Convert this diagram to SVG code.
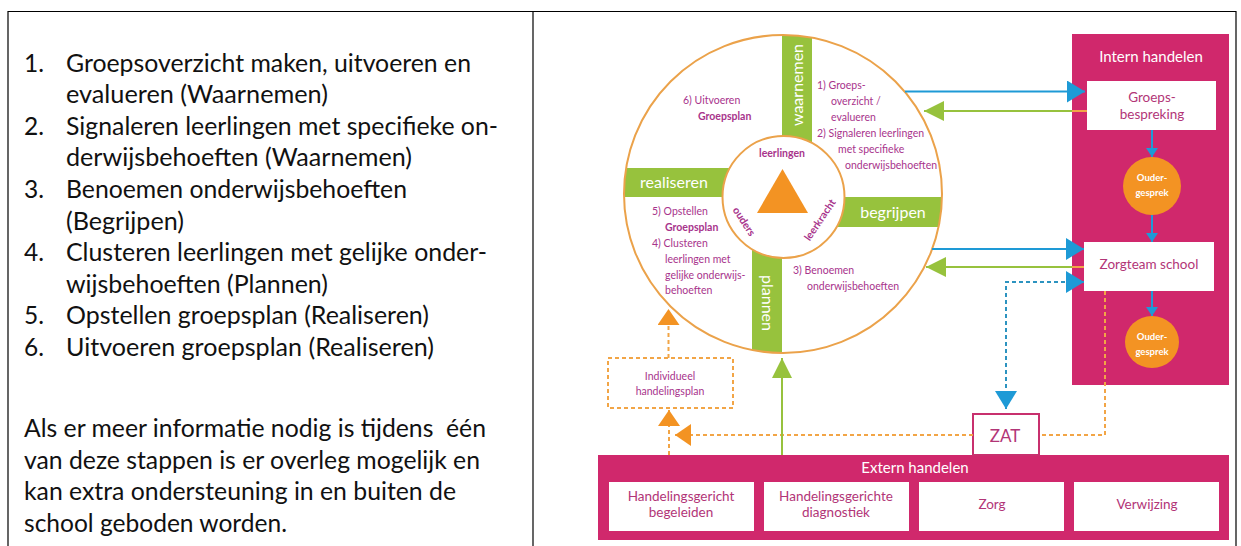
<svg xmlns="http://www.w3.org/2000/svg" width="1241" height="546" viewBox="0 0 1241 546">
<style>
.lt{font-family:Lato,"Liberation Sans",sans-serif;font-size:24.5px;fill:#111}
.ct{font-family:Lato,"Liberation Sans",sans-serif;font-size:10.5px;fill:#A8348C}
.b{font-weight:bold}
.gb{font-family:Lato,"Liberation Sans",sans-serif;font-size:16px;fill:#fff;text-anchor:middle}
.wt{font-family:Lato,"Liberation Sans",sans-serif;font-size:15px;fill:#fff;text-anchor:middle}
.bx{font-family:Lato,"Liberation Sans",sans-serif;font-size:13.5px;fill:#B23577;text-anchor:middle}
.ot{font-family:Lato,"Liberation Sans",sans-serif;font-size:9.5px;fill:#fff;text-anchor:middle;font-weight:bold}
.mag{fill:#D0286C}
.wbox{fill:#fff}
.bar{fill:#97C23D}
.og{fill:#F39323}
.blue{stroke:#1E9AD6;stroke-width:2;fill:none}
.bdash{stroke:#2C93C0;stroke-width:2;fill:none;stroke-dasharray:4 3}
.green{stroke:#97C23D;stroke-width:2;fill:none}
.odash{stroke:#F2A546;stroke-width:2;fill:none;stroke-dasharray:4 3}
.oseg{stroke:#F2A546;stroke-width:2}
</style>
<defs>
<clipPath id="cc"><circle cx="783" cy="194" r="159"/></clipPath>
<marker id="mb" markerUnits="userSpaceOnUse" markerWidth="20" markerHeight="22" refX="18" refY="11" orient="auto-start-reverse"><path d="M0,0 L18,11 L0,22 Z" fill="#1E9AD6"/></marker>
<marker id="mbs" markerUnits="userSpaceOnUse" markerWidth="12" markerHeight="12" refX="9" refY="6" orient="auto"><path d="M0,0 L9,6 L0,12 Z" fill="#1E9AD6"/></marker>
<marker id="mg" markerUnits="userSpaceOnUse" markerWidth="22" markerHeight="22" refX="20" refY="10" orient="auto"><path d="M0,0 L20,10 L0,20 Z" fill="#97C23D"/></marker>
<marker id="mo" markerUnits="userSpaceOnUse" markerWidth="18" markerHeight="24" refX="16" refY="11" orient="auto"><path d="M0,0 L16,11 L0,22 Z" fill="#F39323"/></marker>
</defs>
<rect width="1241" height="546" fill="#fff"/>
<g id="table" stroke="#000" stroke-width="1.2" fill="none">
<path d="M8,546 L8,11.5 L1236,11.5 L1236,546"/>
<path d="M533,11.5 L533,546"/>
</g>
<g id="left-text" class="lt">
<text x="24" y="71.5">1.</text><text x="66" y="71.5" textLength="405" lengthAdjust="spacingAndGlyphs">Groepsoverzicht maken, uitvoeren en</text>
<text x="66" y="103.1" textLength="262" lengthAdjust="spacingAndGlyphs">evalueren (Waarnemen)</text>
<text x="24" y="134.7">2.</text><text x="66" y="134.7" textLength="432" lengthAdjust="spacingAndGlyphs">Signaleren leerlingen met specifieke on-</text>
<text x="66" y="166.3" textLength="346" lengthAdjust="spacingAndGlyphs">derwijsbehoeften (Waarnemen)</text>
<text x="24" y="197.9">3.</text><text x="66" y="197.9" textLength="341" lengthAdjust="spacingAndGlyphs">Benoemen onderwijsbehoeften</text>
<text x="66" y="229.5" textLength="118" lengthAdjust="spacingAndGlyphs">(Begrijpen)</text>
<text x="24" y="261.1">4.</text><text x="66" y="261.1" textLength="421" lengthAdjust="spacingAndGlyphs">Clusteren leerlingen met gelijke onder-</text>
<text x="66" y="292.7" textLength="262" lengthAdjust="spacingAndGlyphs">wijsbehoeften (Plannen)</text>
<text x="24" y="324.3">5.</text><text x="66" y="324.3" textLength="363" lengthAdjust="spacingAndGlyphs">Opstellen groepsplan (Realiseren)</text>
<text x="24" y="355.9">6.</text><text x="66" y="355.9" textLength="368" lengthAdjust="spacingAndGlyphs">Uitvoeren groepsplan (Realiseren)</text>
<text x="24" y="437" xml:space="preserve" textLength="462" lengthAdjust="spacingAndGlyphs">Als er meer informatie nodig is tijdens  één</text>
<text x="24" y="468.5" textLength="456" lengthAdjust="spacingAndGlyphs">van deze stappen is er overleg mogelijk en</text>
<text x="24" y="500" textLength="432" lengthAdjust="spacingAndGlyphs">kan extra ondersteuning in en buiten de</text>
<text x="24" y="531.5" textLength="263" lengthAdjust="spacingAndGlyphs">school geboden worden.</text>
</g>
<g id="cycle">
<circle cx="783" cy="194" r="159" fill="#fff"/>
<g clip-path="url(#cc)">
<rect class="bar" x="782" y="20" width="30" height="177"/>
<rect class="bar" x="600" y="168" width="183" height="29"/>
<rect class="bar" x="783" y="197" width="180" height="30"/>
<rect class="bar" x="752" y="197" width="30" height="180"/>
</g>
<circle cx="783" cy="194" r="159" fill="none" stroke="#EBA24A" stroke-width="2"/>
<text class="gb" transform="translate(802.5,85) rotate(-90)">waarnemen</text>
<text class="gb" x="674" y="187.5">realiseren</text>
<text class="gb" x="893" y="217.5">begrijpen</text>
<text class="gb" transform="translate(761.5,303) rotate(90)">plannen</text>
<text class="ct" x="683" y="103.5">6)  Uitvoeren</text>
<text class="ct b" x="698" y="119.5">Groepsplan</text>
<text class="ct" x="817" y="89">1)  Groeps-</text>
<text class="ct" x="831" y="105">overzicht /</text>
<text class="ct" x="831" y="121">evalueren</text>
<text class="ct" x="817" y="137">2)  Signaleren leerlingen</text>
<text class="ct" x="838" y="153">met specifieke</text>
<text class="ct" x="845" y="169">onderwijsbehoeften</text>
<text class="ct" x="652" y="214.5">5) Opstellen</text>
<text class="ct b" x="665" y="230.5">Groepsplan</text>
<text class="ct" x="652" y="246.5">4) Clusteren</text>
<text class="ct" x="665" y="262.5">leerlingen met</text>
<text class="ct" x="665" y="278.5">gelijke onderwijs-</text>
<text class="ct" x="665" y="294">behoeften</text>
<text class="ct" x="793" y="274">3)  Benoemen</text>
<text class="ct" x="807" y="290">onderwijsbehoeften</text>
</g>
<g id="center">
<circle cx="783.5" cy="197" r="61" fill="#fff" stroke="#EBA24A" stroke-width="2"/>
<polygon class="og" points="782.5,169 757,213 808,213"/>
<text class="ct b" x="782" y="156.5" text-anchor="middle">leerlingen</text>
<text class="ct b" text-anchor="middle" transform="translate(744,221.5) rotate(57)" dy="3.5">ouders</text>
<text class="ct b" text-anchor="middle" transform="translate(820,220) rotate(-56)" dy="3.5">leerkracht</text>
</g>
<g id="intern">
<rect class="mag" x="1072" y="34" width="157" height="351"/>
<text class="wt" x="1151" y="62">Intern handelen</text>
</g>
<g id="groepsbespreking">
<rect class="wbox" x="1087" y="81" width="129" height="49"/>
<text class="bx" x="1152" y="101.5" font-size="14">Groeps-</text>
<text class="bx" x="1152" y="118.5" font-size="14">bespreking</text>
</g>
<g id="oudergesprek1">
<circle class="og" cx="1152" cy="186" r="29"/>
<text class="ot" x="1152" y="180.5">Ouder-</text>
<text class="ot" x="1152" y="195.5">gesprek</text>
</g>
<g id="zorgteam">
<rect class="wbox" x="1084" y="242" width="130" height="49"/>
<text class="bx" x="1149" y="268.5" font-size="14">Zorgteam school</text>
</g>
<g id="oudergesprek2">
<ellipse class="og" cx="1152" cy="342" rx="27" ry="26"/>
<text class="ot" x="1152" y="340">Ouder-</text>
<text class="ot" x="1152" y="355">gesprek</text>
</g>
<g id="individueel">
<rect x="608" y="358" width="125" height="50" fill="none" class="odash"/>
<text class="ct" x="670" y="380" text-anchor="middle">Individueel</text>
<text class="ct" x="670" y="395" text-anchor="middle">handelingsplan</text>
</g>
<g id="extern">
<rect class="mag" x="598" y="455" width="631" height="85"/>
<text class="wt" x="915" y="472.5">Extern handelen</text>
<rect class="wbox" x="609" y="482" width="145" height="49"/>
<text class="bx" x="681" y="500.5">Handelingsgericht</text>
<text class="bx" x="681" y="517">begeleiden</text>
<rect class="wbox" x="764" y="482" width="145" height="49"/>
<text class="bx" x="836" y="500.5">Handelingsgerichte</text>
<text class="bx" x="836" y="517">diagnostiek</text>
<rect class="wbox" x="919" y="482" width="145" height="49"/>
<text class="bx" x="992" y="508.5">Zorg</text>
<rect class="wbox" x="1074" y="482" width="145" height="49"/>
<text class="bx" x="1147" y="508.5">Verwijzing</text>
</g>
<g id="zat">
<rect x="973" y="414" width="66" height="41" fill="#fff" stroke="#C8306E" stroke-width="2"/>
<text x="1005" y="442" font-family="Lato,'Liberation Sans',sans-serif" font-size="17" fill="#B23577" text-anchor="middle">ZAT</text>
</g>
<g id="connectors">
<path class="blue" d="M905,91.5 L1085,91.5" marker-end="url(#mb)"/>
<line class="oseg" x1="1072" y1="111" x2="1087" y2="111"/>
<path class="green" d="M1072,111 L924,111" marker-end="url(#mg)"/>
<path class="blue" d="M932,249 L1084,249" marker-end="url(#mb)"/>
<line class="oseg" x1="1072" y1="267" x2="1084" y2="267"/>
<path class="green" d="M1072,267 L926,267" marker-end="url(#mg)"/>
<path class="bdash" d="M1006,409 L1006,282 L1084,282" marker-start="url(#mb)" marker-end="url(#mb)"/>
<path class="blue" d="M1152,130 L1152,157" marker-end="url(#mbs)"/>
<path class="blue" d="M1152,215 L1152,242" marker-end="url(#mbs)"/>
<path class="blue" d="M1152,291 L1152,316" marker-end="url(#mbs)"/>
<path class="odash" d="M1105,291 L1105,435 L1039,435"/>
<path class="odash" d="M973,435 L675,435" marker-end="url(#mo)"/>
<path class="odash" d="M669,455 L669,410" marker-end="url(#mo)"/>
<path class="odash" d="M668.5,358 L668.5,309" marker-end="url(#mo)"/>
<path class="green" d="M782,455 L782,358" marker-end="url(#mg)"/>
</g>
</svg>
